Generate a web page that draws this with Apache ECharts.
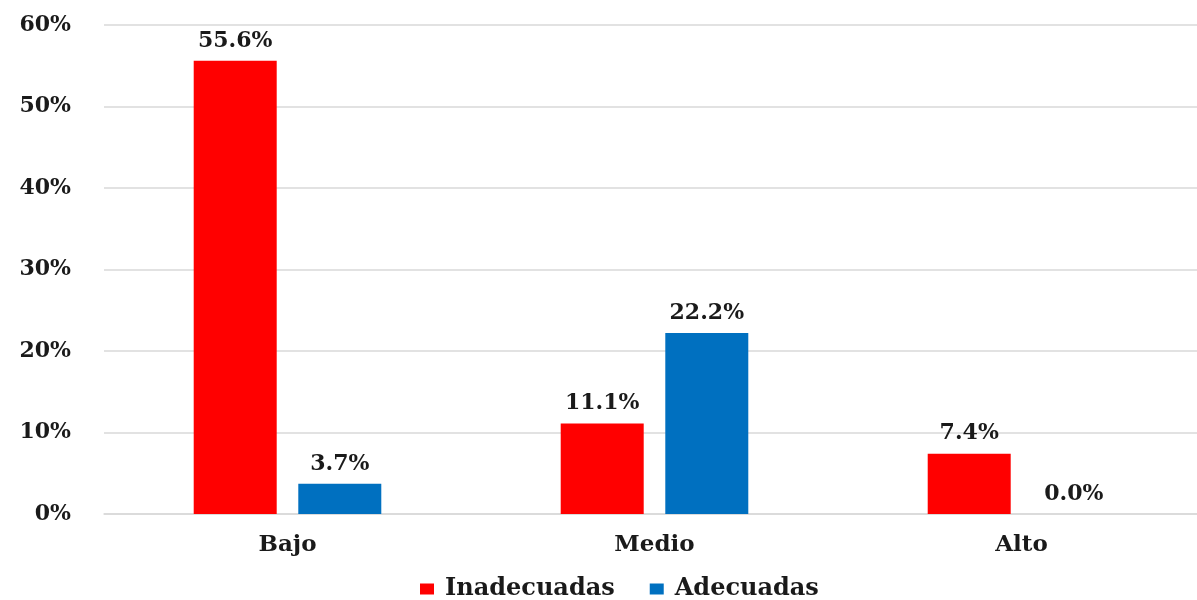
<!DOCTYPE html>
<html>
<head>
<meta charset="utf-8">
<script src="https://cdn.jsdelivr.net/npm/echarts@6/dist/echarts.min.js"></script>
<style>html,body{margin:0;padding:0;background:#fff}#c{width:1197px;height:600px}</style>
</head>
<body>
<div id="c"></div>
<script>
const categories = ['Bajo', 'Medio', 'Alto'];
const inadecuadas = [55.6, 11.1, 7.4];
const adecuadas = [3.7, 22.2, 0.0];
const seriesNames = ['Inadecuadas', 'Adecuadas'];

const FONT = 'DejaVu Serif';
const chart = echarts.init(document.getElementById('c'));
const labelCfg = {
  show: true, position: 'top', distance: 9,
  color: '#1a1a1a', fontFamily: FONT, fontWeight: 'bold', fontSize: 22,
  formatter: p => p.value.toFixed(1) + '%'
};
chart.setOption({
  animation: false,
  grid: { left: 104, top: 25, width: 1101, height: 489, containLabel: false, outerBoundsMode: 'none' },
  legend: {
    data: seriesNames, top: 572, left: 415,
    itemWidth: 14, itemHeight: 11, itemGap: 35,
    icon: 'rect',
    textStyle: { fontFamily: FONT, fontWeight: 'bold', fontSize: 24, color: '#1a1a1a', padding: [0, 0, 0, 6] }
  },
  xAxis: {
    type: 'category', data: categories,
    axisLine: { lineStyle: { color: '#d9d9d9', width: 1.5 } },
    axisTick: { show: false },
    axisLabel: { margin: 20, fontFamily: FONT, fontWeight: 'bold', fontSize: 23, color: '#1a1a1a' }
  },
  yAxis: {
    type: 'value', min: 0, max: 60, interval: 10,
    axisLine: { show: false }, axisTick: { show: false },
    splitLine: { lineStyle: { color: '#d9d9d9', width: 1.5 } },
    axisLabel: { margin: 33, fontFamily: FONT, fontWeight: 'bold', fontSize: 22, color: '#1a1a1a',
      formatter: v => v + '%' }
  },
  series: [
    { name: seriesNames[0], type: 'bar', data: inadecuadas, barWidth: 83, barGap: '26%',
      itemStyle: { color: '#ff0000' }, label: labelCfg },
    { name: seriesNames[1], type: 'bar', data: adecuadas, barWidth: 83,
      itemStyle: { color: '#0070c0' }, label: labelCfg }
  ]
});
</script>
</body>
</html>
